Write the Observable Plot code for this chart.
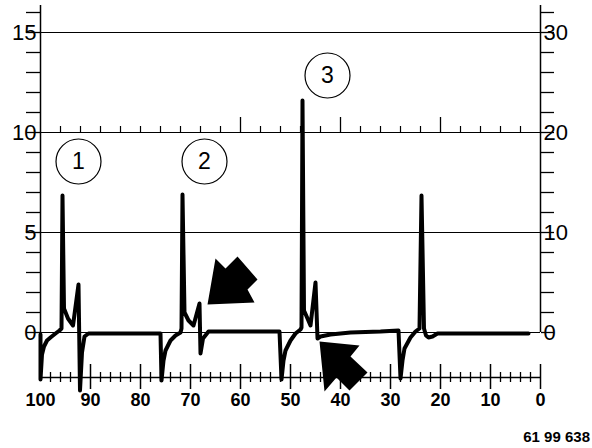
<!DOCTYPE html>
<html><head><meta charset="utf-8">
<script src="https://cdn.jsdelivr.net/npm/d3@7"></script>
<script src="https://cdn.jsdelivr.net/npm/@observablehq/plot@0.6"></script>
<style>
body{margin:0;background:#fff;font-family:"Liberation Sans",Arial,sans-serif;}
#chart svg{display:block;}
#cap{width:592px;height:28px;box-sizing:border-box;padding:7px 2px 0 0;text-align:right;font:bold 15px "Liberation Sans",Arial,sans-serif;line-height:20px;color:#000;}
</style></head><body><div id="chart"></div><div id="cap"></div>
<script>
// Trace (x in scale units 100..0, y in left-axis units)
const traceX = [100.0,100.0,99.7,99.3,98.7,98.0,97.0,96.2,95.8,95.6,95.3,94.5,93.5,92.4,92.1,91.7,91.2,90.4,76.0,
  75.8,75.4,75.0,74.0,73.0,72.0,71.8,71.6,71.2,70.4,69.4,68.2,68.0,67.5,66.4,52.2,
  51.8,51.4,51.0,50.0,49.0,48.0,47.8,47.6,47.3,46.6,46.0,45.0,44.6,44.0,42.0,38.0,32.0,28.4,
  28.0,27.6,27.2,26.0,25.0,24.2,23.8,23.3,22.9,22.4,21.6,20.6,2.4];
const traceY = [-0.1,-2.35,-1.1,-0.7,-0.4,-0.25,-0.05,0.1,0.2,6.85,1.2,0.7,0.35,2.4,-2.9,-1.0,-0.2,-0.05,-0.05,
  -2.4,-1.4,-0.9,-0.4,-0.15,0.0,0.2,6.9,1.0,0.6,0.35,1.45,-1.05,-0.3,0.05,0.05,
  -2.35,-1.4,-0.9,-0.4,-0.05,0.15,0.25,11.6,1.1,0.7,0.35,2.5,-0.3,-0.2,-0.1,0.0,0.05,0.1,
  -2.3,-1.4,-0.8,-0.25,0.05,0.2,6.85,0.2,-0.15,-0.25,-0.2,-0.05,-0.05];

const leftLabels = [0, 5, 10, 15];
const rightLabels = ["0", "10", "20", "30"];
const bottomLabels = [100, 90, 80, 70, 60, 50, 40, 30, 20, 10, 0];
const gridValues = [0, 5, 10, 15];
const calloutText = ["1", "2", "3"];
const calloutX = [92.4, 67.2, 42.6];
const calloutY = [8.55, 8.55, 12.85];
const caption = "61 99 638";

const yMin = -2.25, yMax = 16.35;
const trace = traceX.map((x, i) => ({x, y: traceY[i]}));
const callouts = calloutText.map((t, i) => ({t, x: calloutX[i], y: calloutY[i]}));

const minorBottom = d3.range(2, 100, 2).filter(d => d % 10 !== 0);
const majorBottom = d3.range(10, 101, 10).concat([0]).filter(d => d !== 100);
const topTicks = d3.range(4, 100, 4);
const topMinor = topTicks.filter(d => d % 20 !== 0 || d === 80);
const topMajor = [20, 40, 60];

function polySymbol(pts) {
  return {draw(ctx) { ctx.moveTo(pts[0][0], pts[0][1]); for (const p of pts.slice(1)) ctx.lineTo(p[0], p[1]); ctx.closePath(); }};
}
const arrowA = polySymbol([[0,0],[8,-46],[18,-36],[30,-48],[50,-25],[40,-15],[47,-2]]);
const arrowB = polySymbol([[0,0],[40,4],[31,15],[48,31],[30,49],[17,36],[5,50]]);

const fam = '"Liberation Sans", Arial, sans-serif';
const chart = Plot.plot({
  width: 592, height: 420,
  marginLeft: 40, marginRight: 52, marginTop: 5, marginBottom: 43,
  x: {domain: [100, 0], label: null},
  y: {domain: [yMin, yMax], label: null},
  style: {fontFamily: fam, color: "#000", background: "#fff", overflow: "visible"},
  marks: [
    Plot.ruleY(gridValues, {x1: 100, x2: 0, stroke: "#000", strokeWidth: 1.2}),
    Plot.ruleX([100], {y1: yMin, y2: yMax, stroke: "#000", strokeWidth: 1.5}),
    Plot.ruleX([0], {y1: 0, y2: yMax, stroke: "#000", strokeWidth: 1.5}),
    Plot.ruleY([yMin], {x1: 100, x2: 0, stroke: "#000", strokeWidth: 1.5}),
    Plot.ruleX(minorBottom, {x: d => d, y1: yMin + 0.25, y2: yMin - 0.25, stroke: "#000", strokeWidth: 1.3}),
    Plot.ruleX(majorBottom, {x: d => d, y1: yMin + 0.65, y2: yMin - 0.6, stroke: "#000", strokeWidth: 1.5}),
    Plot.ruleX(topMinor, {x: d => d, y1: 10, y2: 10.3, stroke: "#000", strokeWidth: 1.2}),
    Plot.ruleX(topMajor, {x: d => d, y1: 10, y2: 10.75, stroke: "#000", strokeWidth: 1.3}),
    Plot.axisY({anchor: "left", ticks: d3.range(0, 17), tickSize: 14, tickFormat: () => "", label: null, strokeWidth: 1.3}),
    Plot.axisY({anchor: "right", ticks: d3.range(0, 17), tickSize: 13, tickFormat: () => "", label: null, strokeWidth: 1.3}),
    Plot.axisY({anchor: "left", ticks: leftLabels, tickSize: 0, tickPadding: 4, fontSize: 22, label: null}),
    Plot.axisY({anchor: "right", ticks: leftLabels, tickSize: 0, tickPadding: 3, fontSize: 22, label: null,
      tickFormat: (d) => rightLabels[leftLabels.indexOf(d)]}),
    Plot.axisX({anchor: "bottom", ticks: bottomLabels, tickSize: 0, tickPadding: 16, fontSize: 18, fontWeight: "bold", label: null}),
    Plot.line(trace, {x: "x", y: "y", stroke: "#000", strokeWidth: 4, strokeLinejoin: "round"}),
    Plot.dot(callouts, {x: "x", y: "y", r: 22.5, stroke: "#000", strokeWidth: 1.2, fill: "none"}),
    Plot.text(callouts, {x: "x", y: "y", text: "t", fontSize: 23, fill: "#000"}),
    Plot.dot([{x: 66.6, y: 1.4}], {x: "x", y: "y", r: 5, symbol: arrowA, fill: "#000", stroke: "none"}),
    Plot.dot([{x: 44.2, y: -0.45}], {x: "x", y: "y", r: 5, symbol: arrowB, fill: "#000", stroke: "none"})
  ]
});
document.getElementById("chart").appendChild(chart);
document.getElementById("cap").textContent = caption;
</script></body></html>
